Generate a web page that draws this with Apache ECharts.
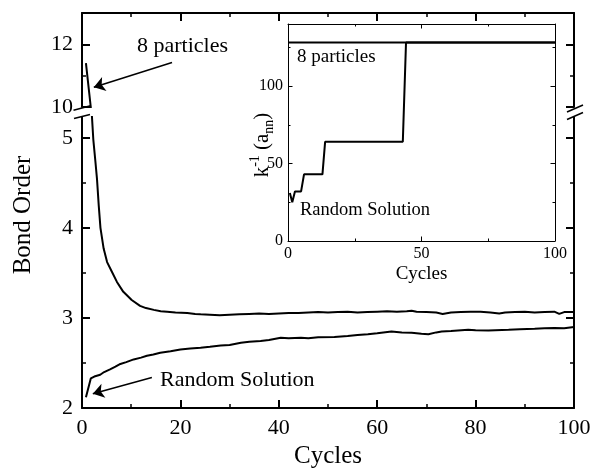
<!DOCTYPE html>
<html>
<head>
<meta charset="utf-8">
<script src="https://cdn.jsdelivr.net/npm/echarts@6/dist/echarts.min.js"></script>
<style>html,body{margin:0;padding:0;background:#fff}#c{width:594px;height:474px}</style>
</head>
<body>
<div id="c"></div>
<script>
// ---- data ----
const cycles8 = [0.8, 1.78, 1.95, 2.3, 2.7, 3.05, 3.4, 3.75, 4.4, 5.1, 6.1, 7.1, 8.4, 10.1, 11.8, 13, 14.6, 16, 17.3, 19, 21.4, 23, 24.1, 26, 28, 30, 32, 34, 36, 38, 40, 42, 44, 46, 48, 50, 52, 54, 56, 58, 60, 62, 64, 66, 67, 68, 70, 72, 73.3, 75, 77, 79, 81, 83, 84.8, 86, 88, 90, 92, 94, 96, 97, 98, 100];
const bond8 = [11.4, 10.0, 5.3, 4.98, 4.75, 4.54, 4.25, 4.0, 3.77, 3.62, 3.51, 3.40, 3.29, 3.20, 3.135, 3.11, 3.09, 3.075, 3.07, 3.06, 3.055, 3.045, 3.04, 3.035, 3.03, 3.035, 3.04, 3.045, 3.05, 3.045, 3.05, 3.055, 3.055, 3.06, 3.065, 3.06, 3.065, 3.07, 3.06, 3.065, 3.07, 3.075, 3.07, 3.075, 3.08, 3.07, 3.065, 3.06, 3.045, 3.06, 3.065, 3.07, 3.07, 3.06, 3.05, 3.06, 3.065, 3.07, 3.06, 3.065, 3.07, 3.045, 3.065, 3.065];
const cyclesRand = [0.8, 1.8, 2.5, 3.7, 4.5, 5.7, 6.8, 7.8, 9, 10.5, 12, 13.2, 14.5, 15.9, 18, 20, 22, 24.1, 26, 28.2, 30, 32.3, 34, 36.3, 38, 40.4, 42, 44.5, 46, 48, 51.3, 54, 56, 58.1, 60, 62.9, 65, 67, 69, 70.4, 72, 73.1, 75, 78.5, 80, 82.6, 84, 86.7, 89, 92, 94, 96, 98, 100];
const bondRand = [2.12, 2.33, 2.35, 2.37, 2.40, 2.43, 2.46, 2.49, 2.51, 2.54, 2.56, 2.58, 2.595, 2.615, 2.63, 2.65, 2.66, 2.67, 2.68, 2.695, 2.70, 2.725, 2.735, 2.745, 2.755, 2.78, 2.775, 2.78, 2.775, 2.785, 2.79, 2.80, 2.81, 2.82, 2.83, 2.85, 2.84, 2.835, 2.825, 2.82, 2.84, 2.85, 2.855, 2.87, 2.865, 2.86, 2.865, 2.87, 2.875, 2.88, 2.885, 2.89, 2.885, 2.90];
const insetCycles8 = [0, 100];
const insetK8 = [128, 128];
const insetCyclesRand = [0.7, 1.6, 2.6, 4.9, 6.0, 12.9, 13.9, 43, 44.2, 100];
const insetKRand = [31, 25, 32, 32, 43, 43, 64, 64, 128, 128];

const mainXTicks = [0, 20, 40, 60, 80, 100];
const upperYTicks = [10, 12];
const upperYMinor = [11];
const lowerYTicks = [2, 3, 4, 5];
const lowerYMinor = [2.5, 3.5, 4.5];
const insetXTicks = [0, 50, 100];
const insetYTicks = [0, 50, 100];
const insetYMinor = [25, 75, 125];

// ---- layout ----
const FONT = 'Liberation Serif';
const L = 82, R = 20, TOP = 13, UPPER_H = 94, LOWER_TOP = 117, LOWER_H = 294;
const IN_L = 288, IN_R = 39, IN_TOP = 24, IN_H = 217;

function pairs(xs, ys) { return xs.map((x, i) => [x, ys[i]]); }

const chart = echarts.init(document.getElementById('c'), null, {renderer: 'canvas'});

function xAxisDef(grid, pos, opts) {
  return Object.assign({
    type: 'value', gridIndex: grid, position: pos, min: 0, max: 100,
    splitLine: {show: false},
    axisLine: {show: true, onZero: false, lineStyle: {color: '#000', width: 2}},
    axisTick: {show: true, inside: true, length: 8, lineStyle: {color: '#000', width: 2}},
    minorTick: {show: true, splitNumber: 2, length: 4, lineStyle: {color: '#000', width: 1.5}},
    axisLabel: {show: false}
  }, opts);
}
function yAxisDef(grid, pos, min, max, ticks, labels, len, width, lineW, labelOpts) {
  return {
    type: 'value', gridIndex: grid, position: pos, min: min, max: max,
    splitLine: {show: false},
    axisLine: {show: lineW > 0, onZero: false, lineStyle: {color: '#000', width: lineW || 1}},
    axisTick: {show: true, inside: true, length: len, customValues: ticks, lineStyle: {color: '#000', width: width}},
    axisLabel: labels ? Object.assign({show: true, customValues: labels, color: '#000', fontFamily: FONT}, labelOpts) : {show: false}
  };
}
const thin = {
  axisLine: {show: true, onZero: false, lineStyle: {color: '#000', width: 1}},
  axisTick: {show: true, inside: true, length: 4.5, lineStyle: {color: '#000', width: 1}},
  minorTick: {show: true, splitNumber: 2, length: 2.5, lineStyle: {color: '#000', width: 1}}
};

const option = {
  animation: false,
  backgroundColor: '#fff',
  grid: [
    {left: L, right: R, top: TOP, height: UPPER_H},
    {left: L, right: R, top: LOWER_TOP, height: LOWER_H},
    {left: IN_L, right: IN_R, top: IN_TOP, height: IN_H}
  ],
  xAxis: [
    xAxisDef(0, 'top', {interval: 20}),
    xAxisDef(1, 'bottom', {interval: 20,
      axisLabel: {show: true, customValues: mainXTicks, color: '#000', fontFamily: FONT, fontSize: 22, margin: 9},
      name: 'Cycles', nameLocation: 'middle', nameGap: 33,
      nameTextStyle: {color: '#000', fontFamily: FONT, fontSize: 25}}),
    xAxisDef(2, 'bottom', Object.assign({interval: 50,
      axisLabel: {show: true, customValues: insetXTicks, color: '#000', fontFamily: FONT, fontSize: 16, margin: 5},
      name: 'Cycles', nameLocation: 'middle', nameGap: 24,
      nameTextStyle: {color: '#000', fontFamily: FONT, fontSize: 19}}, thin)),
    xAxisDef(2, 'top', Object.assign({interval: 50}, thin))
  ],
  yAxis: [
    yAxisDef(0, 'left', 10, 13, upperYTicks, upperYTicks, 8, 2, 2, {fontSize: 22, margin: 9}),
    yAxisDef(0, 'left', 10, 13, upperYMinor, null, 4, 1.5, 0),
    yAxisDef(0, 'right', 10, 13, upperYTicks, null, 8, 2, 2),
    yAxisDef(0, 'right', 10, 13, upperYMinor, null, 4, 1.5, 0),
    yAxisDef(1, 'left', 2, 5.23, lowerYTicks, lowerYTicks, 8, 2, 2, {fontSize: 22, margin: 9}),
    yAxisDef(1, 'left', 2, 5.23, lowerYMinor, null, 4, 1.5, 0),
    yAxisDef(1, 'right', 2, 5.23, lowerYTicks, null, 8, 2, 2),
    yAxisDef(1, 'right', 2, 5.23, lowerYMinor, null, 4, 1.5, 0),
    yAxisDef(2, 'left', 0, 140, insetYTicks, insetYTicks, 4.5, 1, 1, {fontSize: 16, margin: 5}),
    yAxisDef(2, 'left', 0, 140, insetYMinor, null, 2.5, 1, 0),
    yAxisDef(2, 'right', 0, 140, insetYTicks, null, 4.5, 1, 1),
    yAxisDef(2, 'right', 0, 140, insetYMinor, null, 2.5, 1, 0)
  ],
  series: [
    {type: 'line', xAxisIndex: 0, yAxisIndex: 0, data: pairs(cycles8, bond8), showSymbol: false, clip: true,
     lineStyle: {color: '#000', width: 2}, silent: true,
     markLine: {silent: true, symbol: ['none', 'arrow'], symbolSize: 11, label: {show: false},
       lineStyle: {color: '#000', width: 1.5, type: 'solid'},
       data: [[{coord: [18.3, 11.42]}, {coord: [2.4, 10.63]}]]}},
    {type: 'line', xAxisIndex: 1, yAxisIndex: 4, data: pairs(cycles8, bond8), showSymbol: false, clip: true,
     lineStyle: {color: '#000', width: 2}, silent: true},
    {type: 'line', xAxisIndex: 1, yAxisIndex: 4, data: pairs(cyclesRand, bondRand), showSymbol: false, clip: true,
     lineStyle: {color: '#000', width: 2}, silent: true,
     markLine: {silent: true, symbol: ['none', 'arrow'], symbolSize: 11, label: {show: false},
       lineStyle: {color: '#000', width: 1.5, type: 'solid'},
       data: [[{coord: [14.2, 2.34]}, {coord: [2.2, 2.16]}]]}},
    {type: 'line', xAxisIndex: 2, yAxisIndex: 8, data: pairs(insetCycles8, insetK8), showSymbol: false,
     lineStyle: {color: '#000', width: 2}, silent: true},
    {type: 'line', xAxisIndex: 2, yAxisIndex: 8, data: pairs(insetCyclesRand, insetKRand), showSymbol: false,
     lineStyle: {color: '#000', width: 2}, silent: true}
  ]
};
chart.setOption(option);

// decorations: axis-break marks and text labels
const xLeft = L, xRight = 594 - R;
const yUpperBottom = TOP + UPPER_H, yLowerTop = LOWER_TOP;
function slash(cx, cy, dx, dy) {
  return {type: 'line', z: 50, shape: {x1: cx - dx, y1: cy + dy, x2: cx + dx, y2: cy - dy},
    style: {stroke: '#000', lineWidth: 1.5}};
}
chart.setOption({
  graphic: [
    slash(xLeft, yUpperBottom + 1, 8.5, 2.2),
    slash(xLeft, yLowerTop - 0.5, 8, 2),
    slash(xRight + 1, yUpperBottom + 1.5, 8, 3.5),
    slash(xRight + 1, yLowerTop - 1, 8, 3.5),
    {type: 'text', z: 50, x: 137, y: 46, style: {text: '8 particles', font: '22px "Liberation Serif"', fill: '#000', verticalAlign: 'middle'}},
    {type: 'text', z: 50, x: 160, y: 380, style: {text: 'Random Solution', font: '22px "Liberation Serif"', fill: '#000', verticalAlign: 'middle'}},
    {type: 'text', z: 50, x: 297, y: 57, style: {text: '8 particles', font: '19px "Liberation Serif"', fill: '#000', verticalAlign: 'middle'}},
    {type: 'text', z: 50, x: 300, y: 210, style: {text: 'Random Solution', font: '18.5px "Liberation Serif"', fill: '#000', verticalAlign: 'middle'}},
    {type: 'text', z: 50, x: 23, y: 215, rotation: Math.PI / 2,
     style: {text: 'Bond Order', font: '25px "Liberation Serif"', fill: '#000', align: 'center', verticalAlign: 'middle'}},
    {type: 'text', z: 50, x: 262, y: 145, rotation: Math.PI / 2,
     style: {text: '{m|k}{sup|-1}{m| (a}{sub|nn}{m|)}', fill: '#000', align: 'center', verticalAlign: 'middle',
       rich: {
         m: {fontFamily: FONT, fontSize: 21, lineHeight: 28, verticalAlign: 'middle', fill: '#000'},
         sup: {fontFamily: FONT, fontSize: 14, lineHeight: 28, verticalAlign: 'top', fill: '#000'},
         sub: {fontFamily: FONT, fontSize: 14, lineHeight: 28, verticalAlign: 'bottom', fill: '#000'}
       }}}
  ]
});
</script>
</body>
</html>
